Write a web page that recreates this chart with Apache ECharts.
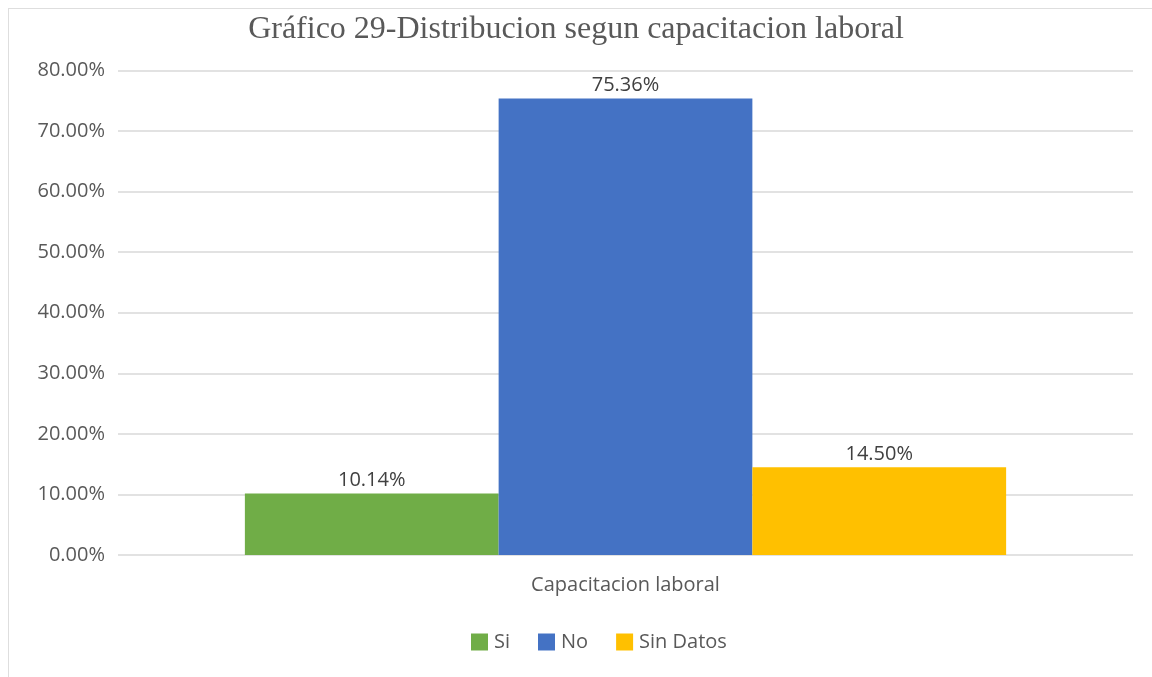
<!DOCTYPE html>
<html>
<head>
<meta charset="utf-8">
<script src="https://cdn.jsdelivr.net/npm/echarts@6/dist/echarts.min.js"></script>
<style>
  html, body { margin: 0; padding: 0; background: #fff; }
  #frame { position: absolute; left: 8px; top: 8px; width: 1160px; height: 690px; border: 1px solid #dedede; box-sizing: border-box; }
  #chart { position: absolute; left: 0; top: 0; width: 1152px; height: 677px; }
</style>
</head>
<body>
<div id="frame"></div>
<div id="chart"></div>
<script>
// Training distribution, percentages
const categories = ['Capacitacion laboral'];
const seriesNames = ['Si', 'No', 'Sin Datos'];
const seriesValues = [[10.14], [75.36], [14.50]];
const seriesColors = ['#70ad47', '#4472c4', '#ffc000'];
const yTicks = { min: 0, max: 80, interval: 10 };

const chart = echarts.init(document.getElementById('chart'));
const labelFont = 'Open Sans, Liberation Sans, sans-serif';

chart.setOption({
  animation: false,
  title: {
    text: 'Gráfico 29-Distribucion segun capacitacion laboral',
    left: 'center',
    top: 9,
    textStyle: { fontFamily: 'Liberation Serif, serif', fontSize: 32, fontWeight: 'normal', color: '#595959' }
  },
  legend: {
    bottom: 20,
    left: 466,
    itemWidth: 17,
    itemHeight: 17,
    itemGap: 28,
    icon: 'rect',
    textStyle: { fontFamily: labelFont, fontSize: 20, color: '#595959', padding: [0, 0, 0, 1] },
    data: seriesNames
  },
  grid: { left: 118, right: 19, top: 70.5, bottom: 122, containLabel: false },
  xAxis: {
    type: 'category',
    data: categories,
    axisLine: { show: false },
    axisTick: { show: false },
    axisLabel: { margin: 20, fontFamily: labelFont, fontSize: 20, color: '#595959' }
  },
  yAxis: {
    type: 'value',
    min: yTicks.min,
    max: yTicks.max,
    interval: yTicks.interval,
    axisLine: { show: false },
    axisTick: { show: false },
    splitLine: { lineStyle: { color: '#d9d9d9', width: 1.5 } },
    axisLabel: {
      margin: 13,
      fontFamily: labelFont,
      fontSize: 20,
      color: '#595959',
      formatter: v => v.toFixed(2) + '%'
    }
  },
  series: seriesNames.map((name, i) => ({
    name,
    type: 'bar',
    data: seriesValues[i],
    barGap: '0%',
    barCategoryGap: '25%',
    itemStyle: { color: seriesColors[i] },
    label: {
      show: true,
      position: 'top',
      distance: 3,
      fontFamily: labelFont,
      fontSize: 20,
      color: '#404040',
      formatter: p => p.value.toFixed(2) + '%'
    }
  }))
});
</script>
</body>
</html>
